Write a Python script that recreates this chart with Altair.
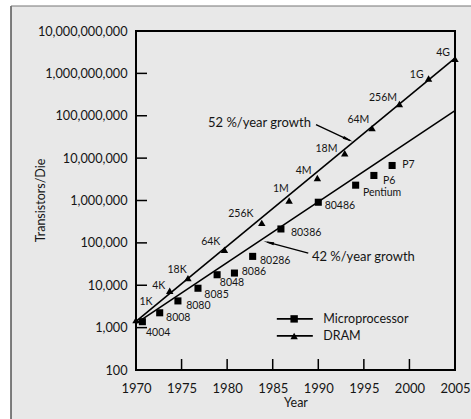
import altair as alt
import pandas as pd

# ---------------- data ----------------
dram_years = [1970.0, 1973.7, 1975.7, 1979.7, 1983.8, 1986.8, 1989.9, 1992.9, 1995.9, 1998.9, 2002.1, 2005.0]
dram_values = [1500, 7400, 14700, 69000, 296000, 1.0e6, 3.4e6, 1.3e7, 5.1e7, 1.9e8, 7.6e8, 2.2e9]
dram_labels = ["1K", "4K", "18K", "64K", "256K", "1M", "4M", "18M", "64M", "256M", "1G", "4G"]
dram_label_years = [1971.1, 1972.5, 1974.5, 1978.2, 1981.5, 1985.9, 1988.4, 1990.9, 1994.4, 1997.1, 2000.8, 2003.7]
dram_label_values = [4070, 9770, 22900, 107000, 490000, 1.82e6, 5.1e6, 1.66e7, 7.8e7, 2.63e8, 9.3e8, 3.1e9]

mp_years = [1970.7, 1972.6, 1974.6, 1976.8, 1978.9, 1980.8, 1982.8, 1985.9, 1990.0, 1994.1, 1996.1, 1998.1]
mp_values = [1380, 2240, 4270, 8500, 17700, 19400, 48000, 213000, 910000, 2.3e6, 3.9e6, 6.7e6]
mp_labels = ["4004", "8008", "8080", "8085", "8048", "8086", "80286", "80386", "80486", "Pentium", "P6", "P7"]
mp_label_years = [1971.1, 1973.3, 1975.5, 1977.5, 1979.2, 1981.6, 1983.6, 1987.0, 1990.7, 1994.9, 1997.1, 1999.2]
mp_label_values = [741, 1660, 3240, 5890, 11200, 20000, 38000, 170000, 724000, 1.51e6, 2.95e6, 6.76e6]

# trend lines (endpoints)
trend_series = ["DRAM", "DRAM", "Microprocessor", "Microprocessor"]
trend_years = [1970, 2005, 1970, 2005]
trend_values = [1410, 2.3e9, 1260, 1.32e8]

# annotations
ann_texts = ["52 %/year growth", "42 %/year growth"]
ann_years = [1977.9, 1989.3]
ann_values = [6.9e7, 4.7e4]
arrow_tail_years = [1989.75, 1988.9]
arrow_tail_values = [6.2e7, 5.75e4]
arrow_tip_years = [1993.5, 1984.4]
arrow_tip_values = [2.6e7, 1.04e5]
arrow_head_years = [1993.1, 1984.75]
arrow_head_values = [2.86e7, 1.0e5]
arrow_head_angles = [115, 284]

# legend
legend_names = ["Microprocessor", "DRAM"]
legend_shapes = ["square", "triangle-up"]
legend_values = [1607, 637]
legend_line_start = 1985.45
legend_line_end = 1989.4
legend_marker_year = 1987.35
legend_text_year = 1990.55

y_tick_values = [1e2, 1e3, 1e4, 1e5, 1e6, 1e7, 1e8, 1e9, 1e10]
x_tick_values = [1970, 1975, 1980, 1985, 1990, 1995, 2000, 2005]

# ---------------- chart ----------------
W, H = 319, 339
PAD_L, PAD_T, PAD_R, PAD_B = 136, 31, 16, 49
FONT = "Lato"
INK = "#151515"
BG = "#e8e8e8"

xscale = alt.Scale(domain=[1970, 2005], nice=False, zero=False)
yscale = alt.Scale(type="log", domain=[100, 1e10], nice=False)

x_axis = alt.Axis(values=x_tick_values, format="d", ticks=False, domain=False, grid=False,
                  labelFlush=False, labelFontSize=13, labelPadding=12, labelColor=INK,
                  title="Year", titleFontSize=12.5, titleFontWeight="normal", titleColor=INK,
                  titleY=32, titleBaseline="middle")
y_axis = alt.Axis(values=y_tick_values, format=",", ticks=False, domain=False, grid=False,
                  labelFlush=False, labelFontSize=12.7, labelPadding=9, labelColor=INK,
                  title="Transistors/Die", titleFontSize=12.5, titleFontWeight="normal",
                  titleColor=INK, titleX=-96, titleY=169, titleAngle=270,
                  titleAlign="center", titleBaseline="middle")


def X(field):
    return alt.X(field, type="quantitative", scale=xscale, axis=x_axis, title="Year")


def Y(field):
    return alt.Y(field, type="quantitative", scale=yscale, axis=y_axis, title="Transistors/Die")


one = alt.Data(values=[{}])

# decorative white margin and panel frame (left and top edges)
white_left = alt.Chart(one).mark_rect(fill="white").encode(
    x=alt.value(-PAD_L), x2=alt.value(-125), y=alt.value(-PAD_T), y2=alt.value(H + PAD_B)
)
white_top = alt.Chart(one).mark_rect(fill="white").encode(
    x=alt.value(-PAD_L), x2=alt.value(W + PAD_R), y=alt.value(-PAD_T), y2=alt.value(-25)
)
frame_left = alt.Chart(one).mark_rule(color="#555555", strokeWidth=1.5).encode(
    x=alt.value(-125), y=alt.value(-25), y2=alt.value(H + PAD_B)
)
frame_top = alt.Chart(one).mark_rule(color="#777777", strokeWidth=1.2).encode(
    x=alt.value(-125), x2=alt.value(W + PAD_R), y=alt.value(-25)
)

ytick = alt.Chart(pd.DataFrame({"v": y_tick_values[1:-1]})).mark_rule(color="black", strokeWidth=1.5).encode(
    y=Y("v"), x=alt.value(0), x2=alt.value(11)
)
xtick = alt.Chart(pd.DataFrame({"v": x_tick_values[1:-1]})).mark_rule(color="black", strokeWidth=1.5).encode(
    x=X("v"), y=alt.value(H - 11), y2=alt.value(H)
)

trend_df = pd.DataFrame({"series": trend_series, "year": trend_years, "value": trend_values})
trend = alt.Chart(trend_df).mark_line(color="black", strokeWidth=1.6).encode(
    x=X("year"), y=Y("value"), detail="series:N"
)

dram_df = pd.DataFrame({"year": dram_years, "value": dram_values})
dram_pts = alt.Chart(dram_df).mark_point(shape="triangle-up", filled=True, color="black", size=55, opacity=1).encode(
    x=X("year"), y=Y("value")
)
mp_df = pd.DataFrame({"year": mp_years, "value": mp_values})
mp_pts = alt.Chart(mp_df).mark_point(shape="square", filled=True, color="black", size=50, opacity=1).encode(
    x=X("year"), y=Y("value")
)

dram_lab = alt.Chart(pd.DataFrame({"year": dram_label_years, "value": dram_label_values, "t": dram_labels})).mark_text(
    font=FONT, fontSize=10.5, color=INK, align="center", baseline="middle"
).encode(x=X("year"), y=Y("value"), text="t:N")

mp_lab = alt.Chart(pd.DataFrame({"year": mp_label_years, "value": mp_label_values, "t": mp_labels})).mark_text(
    font=FONT, fontSize=10.5, color=INK, align="left", baseline="middle"
).encode(x=X("year"), y=Y("value"), text="t:N")

ann = alt.Chart(pd.DataFrame({"year": ann_years, "value": ann_values, "t": ann_texts})).mark_text(
    font=FONT, fontSize=13, color=INK, align="left", baseline="middle"
).encode(x=X("year"), y=Y("value"), text="t:N")

arrow_df = pd.DataFrame({
    "x1": arrow_tail_years, "y1": arrow_tail_values,
    "x2": arrow_tip_years, "y2": arrow_tip_values,
})
shafts = alt.Chart(arrow_df).mark_rule(color="black", strokeWidth=1.3).encode(
    x=X("x1"), y=Y("y1"), x2="x2:Q", y2="y2:Q"
)
heads_df = pd.DataFrame({"year": arrow_head_years, "value": arrow_head_values, "a": arrow_head_angles})
heads = alt.Chart(heads_df).mark_point(shape="wedge", filled=True, color="black", size=150, opacity=1).encode(
    x=X("year"), y=Y("value"), angle=alt.Angle("a:Q", scale=None)
)

leg_df = pd.DataFrame({
    "name": legend_names, "shape": legend_shapes, "value": legend_values,
    "x1": [legend_line_start] * 2, "x2": [legend_line_end] * 2,
    "xm": [legend_marker_year] * 2, "xt": [legend_text_year] * 2,
})
leg_lines = alt.Chart(leg_df).mark_rule(color="black", strokeWidth=1.6).encode(
    x=X("x1"), x2="x2:Q", y=Y("value")
)
leg_marks = alt.Chart(leg_df).mark_point(filled=True, color="black", size=55, opacity=1).encode(
    x=X("xm"), y=Y("value"), shape=alt.Shape("shape:N", scale=None)
)
leg_text = alt.Chart(leg_df).mark_text(font=FONT, fontSize=12.5, color=INK, align="left", baseline="middle").encode(
    x=X("xt"), y=Y("value"), text="name:N"
)

chart = alt.layer(
    white_left, white_top, frame_left, frame_top,
    trend, ytick, xtick, dram_pts, mp_pts, dram_lab, mp_lab,
    ann, shafts, heads, leg_lines, leg_marks, leg_text
).properties(
    width=W, height=H,
    autosize=alt.AutoSizeParams(type="none"),
    padding={"left": PAD_L, "top": PAD_T, "right": PAD_R, "bottom": PAD_B},
    background=BG,
).configure(font=FONT).configure_view(stroke="black", strokeWidth=2)

chart.save("out.html", embed_options={"renderer": "svg", "actions": False})
